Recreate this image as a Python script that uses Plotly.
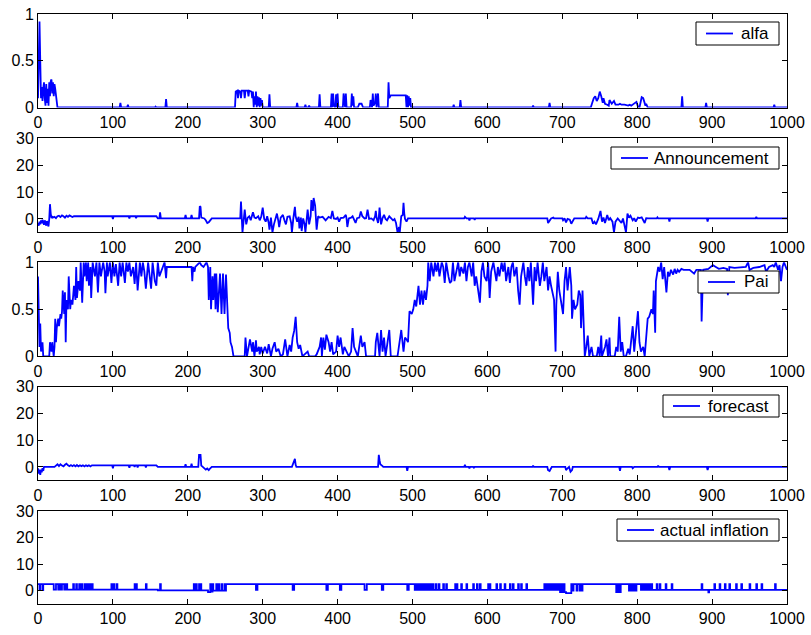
import plotly.graph_objects as go

# ---------------- data, as (t, value) pairs ----------------
alfa_pts = [(0, 0.1), (1, 0.7), (2, 0.92), (3, 0.5), (4, 0.1), (5, 0.22), (6, 0.07), (7, 0.2), (8, 0.27),
            (9, 0.1), (10, 0.02), (11, 0.25), (12, 0.05), (13, 0.2), (14, 0.02), (15, 0.27), (16, 0.12),
            (17, 0.28), (18, 0.3), (19, 0.15), (20, 0.27), (21, 0.12), (22, 0.25), (23, 0.2), (24, 0.1),
            (25, 0.02), (26, 0),
            (109, 0), (110, 0.05), (111, 0), (119, 0), (120, 0.03), (121, 0), (156, 0), (157, 0.01), (158, 0),
            (170, 0), (171, 0.09), (172, 0),
            (263, 0), (264, 0.17), (266, 0.18), (267, 0.1), (268, 0.18), (270, 0.17), (271, 0.1), (272, 0.18),
            (275, 0.18), (276, 0.1), (277, 0.18), (280, 0.18), (281, 0.12), (282, 0.18), (285, 0.17),
            (286, 0.1), (287, 0.17), (288, 0), (289, 0.12), (290, 0.03), (291, 0.17), (292, 0), (293, 0.12),
            (294, 0.02), (295, 0.11), (296, 0), (297, 0.1), (298, 0.02), (299, 0.08), (300, 0),
            (308, 0), (309, 0.14), (310, 0), (345, 0), (346, 0.05), (347, 0), (356, 0), (357, 0.03), (358, 0),
            (361, 0), (362, 0.02), (363, 0), (375, 0), (376, 0.14), (377, 0),
            (391, 0), (392, 0.15), (393, 0), (394, 0.15), (395, 0.02), (397, 0), (398, 0.14), (399, 0),
            (400, 0.15), (401, 0), (407, 0), (408, 0.15), (409, 0), (410, 0), (411, 0.15), (412, 0), (418, 0),
            (419, 0.15), (420, 0.02), (421, 0.12), (422, 0), (427, 0), (429, 0.04), (432, 0.04), (434, 0),
            (443, 0), (444, 0.08), (445, 0), (446, 0), (447, 0.15), (448, 0.02), (450, 0.05), (451, 0.15),
            (452, 0), (453, 0.05), (454, 0.15), (455, 0), (467, 0), (468, 0.27), (469, 0.1), (471, 0.13),
            (491, 0.13), (492, 0), (493, 0.13), (494, 0), (495, 0.12), (496, 0.02), (497, 0.1), (498, 0),
            (554, 0), (555, 0.03), (556, 0), (563, 0), (564, 0.08), (565, 0), (660, 0), (661, 0.02), (662, 0),
            (682, 0), (683, 0.05), (684, 0),
            (738, 0), (740, 0.05), (742, 0.1), (744, 0.12), (746, 0.07), (748, 0.1), (750, 0.17), (752, 0.12),
            (754, 0.05), (755, 0.1), (757, 0.04), (760, 0.03), (762, 0.02), (763, 0.08), (766, 0.04),
            (769, 0.07), (771, 0.03), (775, 0.03), (777, 0.04), (779, 0.03), (783, 0.03), (788, 0.02),
            (790, 0.03), (792, 0.02), (799, 0.06), (801, 0.01), (803, 0), (806, 0.11), (808, 0.1), (811, 0.02),
            (812, 0.04), (814, 0), (859, 0), (860, 0.12), (861, 0), (891, 0), (892, 0.05), (893, 0),
            (982, 0), (983, 0.03), (984, 0), (1000, 0)]

ann_pts = [(0, -1.5), (1, -2.5), (2, -1), (3, -2), (4, -0.5), (5, -1.6), (6, -0.3), (7, -1.2), (8, -2.2),
           (9, -0.5), (10, -1.5), (11, -2.5), (12, -0.8), (13, -2), (14, -2.8), (15, 0), (16, 5.5), (17, 2),
           (18, 0.3), (19, 1), (20, 0.5), (22, 0.8), (24, 0.3), (26, 1), (28, 1.2), (30, 0.7), (32, 1.3),
           (34, 1.0), (36, 0.5), (38, 1.2), (40, 0.8), (42, 1.3), (44, 1.0), (46, 0.7), (48, 1.0),
           (99, 1.0), (100, 0), (101, 1.0), (121, 1.0), (122, 0.2), (123, 1.0), (130, 1.0), (131, 0.3),
           (132, 1.0), (158, 1.0), (160, 0.2), (162, 0.2), (163, 2.5), (164, 0.2), (196, 0.2), (197, 1.5),
           (198, 0.2), (204, 0.2), (205, 1.5), (206, 0.2), (215, 0.2), (216, 4.7), (217, 4.5), (218, 0.5),
           (222, 0.2), (224, -0.5), (226, -1.5), (228, -1.2), (230, -0.5), (232, 0.2), (270, 0.2),
           (271, 6.5), (273, -5), (276, 3.5), (278, -2), (280, 0.5), (282, 1), (284, -0.5), (287, 2.5),
           (289, 0.5), (291, 0.3), (294, 1), (296, -0.5), (298, 0.8), (300, 4.2), (302, 0), (304, -1),
           (306, 1), (308, -1.5), (309, -4), (311, 0.5), (313, -5), (315, -2), (317, 0.5), (319, 2),
           (321, -1), (322, -3), (324, 0.5), (327, 1.5), (329, -0.5), (331, -2), (333, 0.8), (336, 1),
           (338, -1.5), (339, -5), (341, 0.5), (343, 4.5), (344, 1), (346, -1), (348, 0.8), (349, -3.5),
           (351, 0.5), (352, -4.5), (354, 0.2), (356, -2), (357, -5), (359, 1), (360, 3.5), (362, -2),
           (364, 1), (365, 7), (367, 3), (368, 7.8), (370, 5), (371, 0.5), (372, -4), (374, 1), (376, 0.5),
           (380, 0.8), (384, -0.5), (388, 0.8), (391, 0.3), (393, 3), (395, 0.2), (398, 0), (400, 0.5),
           (402, -1), (404, 0.3), (408, 0.5), (411, 1.5), (412, 0), (413, -3), (415, 0.2), (418, 0.5),
           (420, 1), (422, 0), (424, -1.5), (426, 0.3), (429, 0.5), (431, 2.8), (433, 1), (436, 0.2),
           (438, 0.3), (440, 3.5), (442, 0), (445, 0.2), (448, -0.5), (450, 1), (451, 3), (452, 0.5),
           (454, -1.5), (455, 0.5), (456, 4.2), (457, 1), (458, -2), (460, 0.3), (462, 1.5), (464, 0),
           (466, -0.5), (469, 1), (472, 0.2), (474, -0.5), (476, 0), (478, -1.5), (480, -5), (482, -3),
           (483, -5), (485, 1), (487, 1.5), (488, 6), (489, 2), (490, 0), (492, -1), (494, 0.2),
           (569, 0.2), (570, 0.8), (572, 0.2), (575, 0.2), (576, -0.5), (577, 0.2), (582, 0.2), (583, -0.3),
           (584, 0.2), (660, 0.2), (661, 0.4), (662, 0.2), (680, 0.2), (681, -1.5), (683, -0.8), (685, 0.2),
           (688, 0.5), (689, 0.2), (700, 0.2), (701, -0.5), (703, 0.2), (705, -1.3), (707, 0), (710, -0.3),
           (712, -1.8), (714, -0.5), (716, 0.2), (731, 0.2), (732, 0.8), (734, 0.2), (739, 0.2), (741, -1.8),
           (743, -1), (745, -2), (748, 0), (751, 3), (753, -1), (755, 0.5), (757, -1.5), (760, 1.5),
           (762, -0.5), (764, 0.3), (767, -1), (769, -5), (771, -1), (774, 0.2), (776, -0.5), (779, -1.5),
           (781, 0.2), (783, -2), (785, -5), (787, 2), (789, 0.5), (791, 1.2), (794, -0.5), (796, 0.3),
           (798, -1), (801, 0.5), (803, 0.3), (806, 0.6), (808, -0.5), (810, -1.5), (812, 0.3), (815, 0.2),
           (826, 0.2), (827, 0.6), (828, 0.2), (842, 0.2), (843, -1), (844, 0.2), (893, 0.2), (894, -1),
           (895, 0.2), (958, 0.2), (959, 0.8), (960, 0.2), (1000, 0.2)]

pai_pts = [(0, 0.85), (2, 0.1), (3, 0.35), (4, 0.05), (6, 0.15), (7, 0), (15, 0), (16, 0.15), (18, 0.05),
           (19, 0.15), (21, 0), (22, 0.1), (23, 0.4), (24, 0.15), (25, 0.3), (27, 0.4), (28, 0.32), (30, 0.45),
           (31, 0.4), (32, 0.47), (33, 0.7), (35, 0.45), (36, 0.68), (37, 0.15), (38, 0.6), (40, 0.5),
           (41, 0.85), (43, 0.5), (44, 0.6), (46, 0.55), (48, 0.75), (50, 0.6), (51, 0.95), (52, 0.62),
           (54, 0.8), (56, 0.7), (57, 1.0), (58, 0.6), (59, 0.57), (61, 1.0), (62, 0.85), (64, 1.0), (65, 0.8),
           (67, 1.0), (68, 0.75), (70, 0.95), (71, 0.62), (73, 1.0), (76, 0.85), (78, 1.0), (80, 0.68),
           (82, 1.0), (84, 0.85), (87, 1.0), (89, 0.9), (90, 0.67), (92, 1.0), (93, 0.85), (96, 1.0),
           (98, 0.78), (100, 1.0), (102, 0.85), (104, 0.98), (107, 0.75), (109, 1.0), (111, 0.85), (113, 1.0),
           (116, 0.78), (118, 1.0), (120, 0.9), (122, 1.0), (124, 0.85), (127, 0.95), (129, 0.77), (131, 1.0),
           (133, 0.7), (136, 1.0), (138, 0.85), (140, 1.0), (142, 0.9), (144, 0.72), (147, 1.0), (149, 0.85),
           (151, 0.72), (153, 1.0), (156, 0.8), (158, 0.75), (160, 1.0), (162, 0.85), (164, 0.9), (167, 0.95),
           (169, 1.0), (171, 0.83), (172, 0.95), (174, 0.95), (205, 0.95), (206, 0.8), (207, 0.95), (209, 0.9),
           (210, 0.95), (216, 1.0), (218, 0.97), (221, 0.95), (225, 1.0), (227, 0.95), (228, 0.6), (230, 0.95),
           (231, 0.5), (233, 0.85), (234, 0.6), (236, 0.88), (237, 0.5), (238, 0.88), (240, 0.47), (243, 0.88),
           (245, 0.45), (247, 0.88), (249, 0.45), (251, 0.87), (253, 0.4), (254, 0.3), (256, 0.25),
           (257, 0.15), (259, 0.1), (261, 0), (276, 0), (277, 0.2), (279, 0), (283, 0.18), (286, 0.05),
           (287, 0.15), (289, 0), (291, 0.17), (292, 0.05), (295, 0.1), (296, 0.02), (298, 0.1), (300, 0.03),
           (303, 0.1), (306, 0.03), (308, 0.13), (311, 0), (313, 0.08), (316, 0.15), (318, 0.05), (321, 0.08),
           (324, 0), (327, 0.02), (330, 0.18), (333, 0), (336, 0.12), (338, 0.05), (340, 0.2), (342, 0.27),
           (344, 0.42), (346, 0.15), (348, 0.08), (350, 0.12), (353, 0), (360, 0.05), (362, 0), (370, 0),
           (372, 0.02), (376, 0.1), (378, 0.2), (379, 0), (381, 0.2), (383, 0.07), (385, 0.23), (388, 0.15),
           (390, 0.05), (392, 0.15), (394, 0.02), (398, 0.05), (400, 0.22), (402, 0.1), (404, 0.2),
           (407, 0.02), (409, 0.1), (412, 0.05), (415, 0), (418, 0.05), (420, 0.3), (422, 0.1), (424, 0.05),
           (427, 0), (431, 0.22), (433, 0.1), (436, 0.15), (438, 0), (450, 0), (451, 0.15), (453, 0.25),
           (456, 0), (458, 0.28), (460, 0.05), (462, 0.2), (464, 0), (469, 0.28), (471, 0), (480, 0),
           (482, 0.12), (485, 0.28), (488, 0.05), (490, 0.2), (492, 0.18), (494, 0.15), (496, 0.48),
           (499, 0.45), (501, 0.5), (503, 0.6), (505, 0.53), (508, 0.75), (510, 0.55), (512, 0.7), (514, 0.55),
           (516, 0.7), (518, 0.6), (520, 0.75), (521, 1.0), (523, 0.8), (525, 1.0), (528, 0.85), (530, 1.0),
           (532, 0.9), (534, 1.0), (536, 0.85), (539, 1.0), (541, 0.95), (543, 0.78), (545, 1.0), (548, 0.85),
           (550, 0.78), (552, 0.8), (554, 1.0), (556, 0.8), (559, 0.95), (561, 1.0), (563, 0.85), (565, 0.95),
           (568, 0.88), (570, 1.0), (572, 0.8), (574, 0.95), (576, 1.0), (579, 0.85), (581, 1.0), (583, 0.75),
           (585, 0.85), (588, 0.65), (590, 0.57), (592, 0.9), (594, 1.0), (596, 0.85), (599, 0.8), (601, 1.0),
           (603, 0.62), (605, 0.9), (608, 1.0), (610, 0.9), (612, 0.8), (614, 0.95), (616, 0.85), (619, 1.0),
           (621, 0.9), (623, 1.0), (625, 0.8), (628, 0.95), (630, 0.78), (632, 0.95), (634, 1.0), (636, 0.85),
           (639, 0.95), (641, 0.7), (643, 0.55), (645, 0.85), (648, 1.0), (650, 0.85), (652, 0.75),
           (654, 0.95), (656, 0.8), (658, 1.0), (661, 0.55), (663, 0.95), (665, 0.8), (667, 1.0), (670, 0.75),
           (672, 0.85), (674, 1.0), (676, 0.8), (679, 0.95), (681, 0.7), (683, 0.85), (685, 0.75), (687, 0.65),
           (689, 0.6), (691, 0.05), (692, 0.55), (694, 0.9), (696, 0.7), (699, 0.55), (701, 0.45), (703, 0.8),
           (705, 0.95), (707, 0.7), (710, 0.95), (712, 0.75), (713, 0.4), (715, 0.6), (717, 0.5), (720, 0.55),
           (722, 0.7), (724, 0.65), (725, 0.3), (727, 0.7), (728, 0.4), (730, 0), (732, 0.1), (734, 0.22),
           (736, 0), (739, 0.1), (741, 0), (746, 0), (748, 0.1), (750, 0), (752, 0.22), (753, 0), (757, 0.1),
           (759, 0.18), (761, 0), (763, 0.2), (764, 0), (770, 0), (772, 0.1), (774, 0.05), (776, 0.42),
           (778, 0.05), (780, 0.15), (782, 0), (785, 0), (788, 0.08), (790, 0.02), (792, 0.15), (794, 0.32),
           (796, 0.05), (798, 0.2), (801, 0.48), (803, 0.15), (805, 0.05), (808, 0.1), (810, 0), (812, 0.2),
           (814, 0.4), (816, 0.42), (819, 0.5), (821, 0.45), (822, 0.7), (824, 0.25), (825, 0.8), (828, 0.95),
           (830, 0.9), (832, 1.0), (834, 0.82), (836, 0.95), (839, 0.68), (841, 0.9), (843, 0.85), (845, 0.92),
           (848, 0.87), (850, 0.93), (852, 0.88), (854, 0.92), (856, 0.9), (859, 0.93), (862, 0.92),
           (870, 0.92), (876, 0.88), (879, 0.92), (885, 0.92), (886, 0.37), (888, 0.92), (895, 0.93),
           (901, 0.97), (905, 0.95), (909, 0.93), (915, 0.94), (920, 0.93), (921, 0.65), (923, 0.95),
           (930, 0.94), (940, 0.95), (945, 0.95), (948, 1.0), (950, 0.92), (955, 0.94), (963, 0.95),
           (970, 0.97), (972, 0.9), (976, 0.95), (981, 0.97), (983, 0.95), (985, 1.0), (988, 0.92),
           (990, 0.97), (992, 0.8), (994, 0.95), (996, 1.0), (999, 0.92), (1000, 0.92)]

fc_pts = [(0, -0.5), (1, -2.5), (2, -1), (3, -3), (4, -1), (5, -2), (6, -0.5), (7, -1.5), (8, 0), (22, 0),
          (24, 0.5), (26, 1.0), (28, 0.3), (30, 1.0), (32, 0.5), (34, 0.2), (36, 0.8), (38, 1.2), (40, 0.6),
          (42, 0.3), (44, 0.7), (46, 0.3), (48, 0.7), (50, 0.2), (52, 0.7), (54, 0.2), (56, 0.6), (58, 0.3),
          (60, 0.6), (62, 0.2), (64, 0.6), (66, 0.3), (68, 0.6), (70, 0.2), (72, 0.6), (99, 0.6), (100, -0.5),
          (101, 0.6), (121, 0.6), (122, -0.3), (123, 0.6), (128, 0.6), (129, 0), (130, 0.6), (132, 0.6),
          (133, -0.2), (134, 0.6), (143, 0.6), (144, -0.2), (145, 0.6), (158, 0.6), (160, 0), (196, 0),
          (197, 1.0), (198, 0), (204, 0), (205, 1.2), (206, 0), (214, 0), (215, 4.5), (217, 4.5), (218, 0.5),
          (220, 0), (222, -0.5), (224, -1.0), (226, -0.6), (228, -1.2), (230, -0.5), (232, 0), (339, 0),
          (340, 0.8), (343, 3.0), (344, 0.8), (345, 0), (454, 0), (455, 4.5), (456, 2.5), (457, 1),
          (460, 0.3), (461, 0), (492, 0), (493, -1.5), (494, 0), (569, 0), (570, 0.8), (571, 0), (575, 0),
          (576, -0.5), (577, 0), (581, 0), (582, -0.3), (583, 0), (660, 0), (661, 0.5), (662, 0), (680, 0),
          (681, -1.2), (683, -1.5), (685, -0.5), (686, 0), (704, 0), (705, -1.2), (707, -0.5), (709, 0),
          (711, -1.8), (713, -1.2), (714, 0), (776, 0), (777, -1.5), (778, 0), (793, 0), (794, -0.5),
          (796, 0), (827, 0), (828, 0.5), (829, 0), (842, 0), (843, -1.2), (844, 0), (893, 0), (894, -1.2),
          (895, 0), (1000, 0)]

# actual inflation: (t where the level changes, new level), drawn as a step line
infl_steps = [(0, 2.5), (2, 0.2), (3, 2.5), (6, 0.2), (7, 2.5), (21, 0.4), (24, 2.5), (27, 0.4), (28, 2.5),
              (30, 0.4), (32, 2.5), (35, 0.4), (37, 2.5), (39, 0.4),
              (47, 2.5), (48, 0.4), (51, 2.5), (52, 0.4), (55, 2.5), (56, 0.4), (58, 2.5), (59, 0.4),
              (62, 2.5), (63, 0.4), (64, 2.5), (65, 0.4), (67, 2.5), (68, 0.4), (69, 2.5), (70, 0.4),
              (72, 2.5), (73, 0.4), (98, 2.5), (99, 0.4), (101, 2.5), (102, 0.4), (105, 2.5), (106, 0.4),
              (129, 2.5), (130, 0.4), (131, 2.5), (132, 0.4), (144, 2.5), (145, 0.4),
              (160, 0.1), (163, 2.5), (164, 0.1), (208, 2.5), (209, 0.1), (211, 2.5), (212, 0.1),
              (215, 2.5), (216, 0.1), (217, 2.5), (218, 0.1),
              (227, -0.5), (230, 2.5), (231, -0.3), (233, 2.5), (234, 0.0), (238, 2.5), (239, 0.0),
              (241, 2.5), (242, 0.0), (245, 2.5), (246, 0.0), (249, 2.5), (250, 0.0), (251, 2.5),
              (291, 0.3), (293, 2.5), (340, 0.3), (342, 2.5), (385, 0.3), (387, 2.5), (403, 0.3), (405, 2.5),
              (436, 0.3), (439, 2.5), (459, 0.3), (461, 2.5), (493, 0.3), (495, 2.5),
              (503, 0.3), (504, 2.5), (506, 0.3), (507, 2.5), (508, 0.3), (509, 2.5), (511, 0.3), (512, 2.5),
              (513, 0.3), (514, 2.5), (515, 0.3), (516, 2.5), (517, 0.3), (518, 2.5), (520, 0.3), (521, 2.5),
              (522, 0.3), (523, 2.5), (524, 0.3), (525, 2.5), (526, 0.3), (527, 2.5), (528, 0.3),
              (531, 2.5), (532, 0.3), (535, 2.5), (536, 0.3), (541, 2.5), (542, 0.3), (545, 2.5), (546, 0.3),
              (557, 2.5), (558, 0.3), (559, 2.5), (560, 0.3), (565, 2.5), (566, 0.3), (572, 2.5), (573, 0.3),
              (581, 2.5), (582, 0.3), (586, 2.5), (587, 0.3), (590, 2.5), (591, 0.3), (601, 2.5), (602, 0.3),
              (603, 2.5), (604, 0.3), (612, 2.5), (613, 0.3), (617, 2.5), (618, 0.3), (623, 2.5), (624, 0.3),
              (630, 2.5), (631, 0.3), (634, 2.5), (635, 0.3), (641, 2.5), (642, 0.3), (645, 2.5), (646, 0.3),
              (652, 2.5), (653, 0.3),
              (676, 2.5), (678, 0.3), (680, 2.5), (682, 0.3), (683, 2.5), (685, 0.3), (686, 2.5), (688, 0.3),
              (689, 2.5), (691, 0.3), (692, 2.5), (694, 0.3), (695, 2.5), (697, -0.5), (699, 2.5), (700, -0.5),
              (702, 2.5), (703, -0.5), (705, -0.9), (712, 2.5), (714, 0.0), (715, 2.5), (719, 0.0), (720, 2.5),
              (723, 0.0), (724, 2.5), (726, 0.0), (727, 2.5),
              (772, -0.5), (774, 2.5), (776, -0.5), (778, 2.5), (789, 0.0), (791, 2.5), (793, 0.0), (795, 2.5),
              (797, 0.0), (799, 2.5), (805, 0.3), (806, 2.5), (808, 0.3), (809, 2.5), (811, 0.3), (812, 2.5),
              (814, 0.3), (815, 2.5), (816, 0.3), (817, 2.5), (818, 0.3), (819, 2.5), (820, 0.3),
              (826, 2.5), (827, 0.3), (830, 2.5), (831, 0.3), (838, 2.5), (839, 0.3), (846, 2.5), (847, 0.3),
              (886, 2.5), (887, 0.3), (895, -0.6), (896, 0.3), (903, 2.5), (904, 0.3), (910, 2.5), (911, 0.3),
              (917, 2.5), (918, 0.3), (923, 2.5), (924, 0.3), (932, 2.5), (933, 0.3), (939, 2.5), (940, 0.3),
              (950, 2.5), (951, 0.3), (959, 2.5), (960, 0.3), (966, 2.5), (967, 0.3), (984, 2.5), (985, 0.3),
              (1000, 0.3)]

names = ["alfa", "Announcement", "Pai", "forecast", "actual inflation"]
x_ticks = [0, 100, 200, 300, 400, 500, 600, 700, 800, 900, 1000]
yranges = [[0, 1], [-5, 30], [0, 1], [-5, 30], [-5, 30]]
yticks = [[0, 0.5, 1], [0, 10, 20, 30], [0, 0.5, 1], [0, 10, 20, 30], [0, 10, 20, 30]]
yticktext = [["0", "0.5", "1"], ["0", "10", "20", "30"], ["0", "0.5", "1"],
             ["0", "10", "20", "30"], ["0", "10", "20", "30"]]

# ---------------- layout geometry (pixels) ----------------
W, H = 811, 635
ML, MR, MT, MB = 38, 24, 14, 31
PW, PH = W - ML - MR, H - MT - MB
panels = [(14, 107.5), (138.3, 232.4), (262.3, 356.3), (386.7, 480.3), (511, 604)]
# legend boxes: left, top, bottom  (right edge common)
leg_boxes = [(696, 22, 45), (611, 147, 169), (698, 271, 293), (663, 395, 417), (617, 519, 541)]
LEG_R = 779


def px_x(p):
    return (p - ML) / PW


def px_y(p):
    return 1 - (p - MT) / PH


def clamp(v):
    return min(1.0, max(0.0, v))


series = [(alfa_pts, "linear"), (ann_pts, "linear"), (pai_pts, "linear"), (fc_pts, "linear"),
          (infl_steps, "hv")]

FONT = "Liberation Sans, Arial, Helvetica, sans-serif"
BLUE = "#0000ff"
LW = 1.8
fig = go.Figure()
layout = dict(width=W, height=H, margin=dict(l=ML, r=MR, t=MT, b=MB, autoexpand=False),
              paper_bgcolor="white", plot_bgcolor="white",
              font=dict(family=FONT, size=16, color="black"), showlegend=False)
shapes, annots = [], []

for i in range(5):
    sfx = "" if i == 0 else str(i + 1)
    pts, shape = series[i]
    xs = [p[0] for p in pts]
    ys = [p[1] for p in pts]
    fig.add_trace(go.Scatter(x=xs, y=ys, mode="lines", name=names[i],
                             line=dict(color=BLUE, width=LW, shape=shape),
                             xaxis="x" + sfx, yaxis="y" + sfx))
    top, bot = panels[i]
    dom = [clamp(px_y(bot)), clamp(px_y(top))]
    axcommon = dict(showline=True, linecolor="black", linewidth=1, mirror="ticks",
                    ticks="inside", ticklen=5, tickcolor="black", tickwidth=1, automargin=False,
                    showgrid=False, zeroline=False, tickfont=dict(size=16, color="black"))
    layout["xaxis" + sfx] = dict(domain=[0, 1], range=[0, 1000], anchor="y" + sfx,
                                 tickvals=x_ticks, ticktext=[str(v) for v in x_ticks], **axcommon)
    layout["yaxis" + sfx] = dict(domain=dom, range=yranges[i], anchor="x" + sfx,
                                 tickvals=yticks[i], ticktext=yticktext[i], **axcommon)
    # legend drawn as a box, a sample line and a text label
    L, T, B = leg_boxes[i]
    shapes.append(dict(type="rect", xref="paper", yref="paper", x0=px_x(L), x1=px_x(LEG_R),
                       y0=px_y(B), y1=px_y(T), line=dict(color="black", width=1),
                       fillcolor="white", layer="above"))
    ym = (T + B) / 2
    shapes.append(dict(type="line", xref="paper", yref="paper", x0=px_x(L + 10), x1=px_x(L + 37),
                       y0=px_y(ym), y1=px_y(ym), line=dict(color=BLUE, width=LW), layer="above"))
    annots.append(dict(text=names[i], xref="paper", yref="paper", x=px_x(LEG_R - 8), y=px_y(ym),
                       xanchor="right", yanchor="middle", showarrow=False,
                       font=dict(size=17, color="black", family=FONT)))

layout["shapes"] = shapes
layout["annotations"] = annots
fig.update_layout(**layout)
fig.write_html("out.html")
